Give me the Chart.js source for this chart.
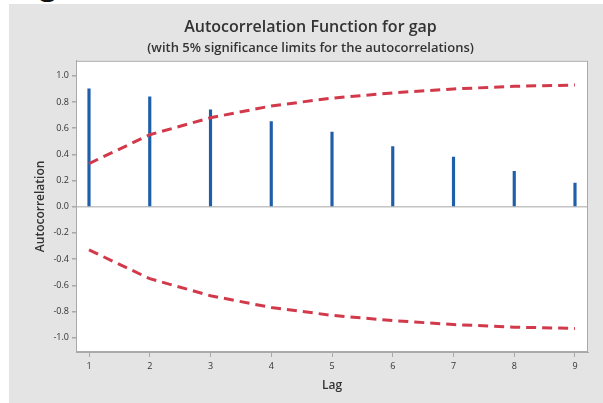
<!DOCTYPE html>
<html>
<head>
<meta charset="utf-8">
<script src="https://cdn.jsdelivr.net/npm/chart.js@4.4.1/dist/chart.umd.min.js"></script>
<style>
  html, body { margin: 0; padding: 0; background: #fff; width: 603px; height: 403px; overflow: hidden; }
  #fig-label {
    position: absolute; left: 14px; top: -37px;
    font: bold 30px 'Open Sans', sans-serif; color: #111;
  }
  #panel {
    position: absolute; left: 9px; top: 4px; width: 594px; height: 399px;
    background: #e4e4e4;
  }
</style>
</head>
<body>
<div id="fig-label">Figure (c)</div>
<div id="panel"><canvas id="acf" width="594" height="399"></canvas></div>
<script>
// ACF values by lag, plus the 5% significance limits
const lags = [1, 2, 3, 4, 5, 6, 7, 8, 9];
const acf = [0.90, 0.84, 0.74, 0.65, 0.57, 0.46, 0.38, 0.27, 0.18];
const upperLimit = [0.33, 0.55, 0.68, 0.77, 0.83, 0.87, 0.90, 0.92, 0.93];
const lowerLimit = upperLimit.map((v) => -v);
const yTicks = [-1.0, -0.8, -0.6, -0.4, -0.2, 0.0, 0.2, 0.4, 0.6, 0.8, 1.0];

const TEXT = '#333';
const FRAME = '#a9a9a9';
const BAR = '#1f5ea8';
const LIMIT = '#d2394a';
const FONT = "'Open Sans', sans-serif";

const pts = (ys) => lags.map((x, i) => ({ x, y: ys[i] }));

// white plot region with a thin frame
const plotFrame = {
    id: 'plotFrame',
    beforeDraw(chart) {
        const { ctx, chartArea: a } = chart;
        ctx.save();
        ctx.fillStyle = '#fff';
        ctx.fillRect(a.left, a.top, a.right - a.left, a.bottom - a.top);
        ctx.restore();
    },
    afterDraw(chart) {
        const { ctx, chartArea: a } = chart;
        ctx.save();
        ctx.strokeStyle = FRAME;
        ctx.lineWidth = 1;
        ctx.strokeRect(a.left + 0.5, a.top + 0.5, a.right - a.left - 1, a.bottom - a.top - 1);
        ctx.restore();
    },
};

const limitLine = (ys) => ({
    type: 'line',
    data: pts(ys),
    borderColor: LIMIT,
    borderWidth: 3,
    borderDash: [10, 6],
    pointRadius: 0,
    tension: 0,
    order: 1,
});

new Chart(document.getElementById('acf'), {
    type: 'bar',
    data: {
        datasets: [
            {
                type: 'bar',
                data: pts(acf),
                backgroundColor: BAR,
                barThickness: 2.5,
                order: 2,
            },
            limitLine(upperLimit),
            limitLine(lowerLimit),
        ],
    },
    plugins: [plotFrame],
    options: {
        responsive: false,
        animation: false,
        layout: { padding: { left: 24, right: 15, top: 0, bottom: 6 } },
        plugins: {
            legend: { display: false },
            tooltip: { enabled: false },
            title: {
                display: true,
                text: 'Autocorrelation Function for gap',
                color: TEXT,
                font: { family: FONT, size: 16, weight: 600 },
                padding: { top: 14, bottom: 1 },
            },
            subtitle: {
                display: true,
                text: '(with 5% significance limits for the autocorrelations)',
                color: TEXT,
                font: { family: FONT, size: 13, weight: 600 },
                padding: { top: 2, bottom: 5 },
            },
        },
        scales: {
            x: {
                type: 'linear',
                offset: false,
                min: 0.786,
                max: 9.214,
                afterBuildTicks: (s) => { s.ticks = lags.map((v) => ({ value: v })); },
                afterFit: (s) => { s.height = 45; },
                grid: { offset: false, drawOnChartArea: false, tickLength: 5, tickColor: FRAME },
                border: { color: FRAME },
                ticks: { color: TEXT, font: { family: FONT, size: 9 }, padding: 4 },
                title: {
                    display: true, text: 'Lag', color: TEXT,
                    font: { family: FONT, size: 12, weight: 600 }, padding: { top: 6 },
                },
            },
            y: {
                min: -1.11,
                max: 1.115,
                afterBuildTicks: (s) => { s.ticks = yTicks.map((v) => ({ value: v })); },
                afterFit: (s) => { s.width = 43; },
                grid: {
                    tickLength: 4,
                    tickColor: FRAME,
                    color: (c) => (c.tick && c.tick.value === 0 ? '#c4c4c4' : 'rgba(0,0,0,0)'),
                    lineWidth: 1.5,
                },
                border: { color: FRAME },
                ticks: {
                    color: TEXT,
                    font: { family: FONT, size: 9 },
                    padding: 3,
                    callback: (v) => v.toFixed(1),
                },
                title: {
                    display: true, text: 'Autocorrelation', color: TEXT,
                    font: { family: FONT, size: 12, weight: 600 }, padding: { top: 0, bottom: 2 },
                },
            },
        },
    },
});
</script>
</body>
</html>
